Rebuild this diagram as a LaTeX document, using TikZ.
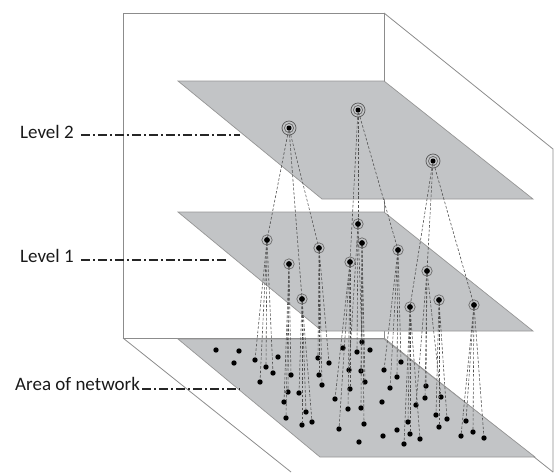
\documentclass[tikz,border=0pt]{standalone}
\usepackage{fontspec}
\setmainfont{Carlito}
\definecolor{boxline}{RGB}{140,140,140}
\definecolor{planefill}{RGB}{194,196,198}
\definecolor{planeedge}{RGB}{150,150,150}
\definecolor{connc}{RGB}{80,80,80}
\definecolor{txtc}{RGB}{25,25,25}
\begin{document}
\begin{tikzpicture}[x=1pt,y=-1pt,
  boxedge/.style={draw=boxline, line width=0.8pt},
  plane/.style={fill=planefill, draw=planeedge, line width=0.7pt},
  dot/.style={circle, fill=black, inner sep=0pt, minimum size=5.4pt},
  lonedot/.style={circle, fill=black, inner sep=0pt, minimum size=5.8pt},
  ltwodot/.style={circle, fill=black, inner sep=0pt, minimum size=5pt},
  ring/.style={draw=gray!85!black, line width=0.7pt},
  conn/.style={draw=connc, line width=0.6pt, dash pattern=on 2.6pt off 1.8pt},
  lbl/.style={font=\fontsize{19}{22}\selectfont, text=txtc, inner sep=0pt},
  leader/.style={draw=black!85, line width=1.6pt, dash pattern=on 9pt off 3pt on 2pt off 3pt}]
\useasboundingbox (0,0) rectangle (555,472);
% box
\draw[boxedge] (123,13) rectangle (384,338);
\draw[boxedge] (384,13) -- (553,149) -- (553,472);
\draw[boxedge] (384,338) -- (553,472);
\draw[boxedge] (123,338) -- (291,472);
% planes
\path[plane] (178,81) -- (384,81) -- (533,199) -- (322,199) -- cycle;
\path[plane] (178,212) -- (384,212) -- (533,331) -- (322,331) -- cycle;
\path[plane] (178,339) -- (384,339) -- (535,457) -- (320,457) -- cycle;
% labels
\node[lbl, anchor=base west] (lv2) at (20,138) {Level 2};
\node[lbl, anchor=base west] (lv1) at (20,262) {Level 1};
\node[lbl, anchor=base west] (area) at (15,390) {Area of network};
\coordinate (lv2end) at (240,135);
\coordinate (lv1end) at (227,260);
\coordinate (areaend) at (240,389);
\draw[leader] (lv2.east |- lv2end) ++(7,0) -- (lv2end);
\draw[leader] (lv1.east |- lv1end) ++(7,0) -- (lv1end);
\draw[leader] (area.east |- areaend) ++(2,0) -- (areaend);
% bottom dots
\foreach \i/\x/\y in {1/216/350, 2/239/351, 3/234/363, 4/255/360, 5/266/367,
  6/278/357, 7/273/373, 8/260/382, 9/291/375, 10/288/392, 11/299/393,
  12/284/402, 13/286/418, 14/306/412, 15/302/425, 16/312/422, 17/318/358,
  18/329/363, 19/319/375, 20/322/385, 21/343/348, 22/362/342, 23/357/352,
  24/370/350, 25/349/370, 26/361/371, 27/365/382, 28/350/389, 29/335/399,
  30/348/409, 31/361/408, 32/364/424, 33/339/429, 34/359/442, 35/384/370,
  36/401/362, 37/397/377, 38/390/388, 39/382/402, 40/426/386, 41/425/398,
  42/416/405, 43/441/397, 44/436/415, 45/447/419, 46/408/422, 47/397/430,
  48/410/434, 49/383/436, 50/420/439, 51/404/444, 52/439/427, 53/466/421,
  54/473/432, 55/461/436, 56/484/438}
  \node[dot] (b\i) at (\x,\y) {};
% level 1 nodes
\foreach \n/\x/\y in {L1a/267/240, L1b/319/248, L1c/289/264, L1d/302/299,
  L1e/358/224, L1f/362/243, L1g/350/262, L1h/398/250, L1i/427/271,
  L1j/410/307, L1k/439/300, L1l/474/305}
  \node[lonedot] (\n) at (\x,\y) {};
% level 2 nodes
\foreach \n/\x/\y in {L2a/289/128, L2b/358/110, L2c/433/161}
  \node[ltwodot] (\n) at (\x,\y) {};
% connectors level 2 -> level 1
\foreach \a/\b in {L2a/L1a, L2a/L1b, L2a/L1d, L2b/L1e, L2b/L1g, L2b/L1h,
  L2c/L1i, L2c/L1j, L2c/L1l}
  \draw[conn] (\a) -- (\b);
% connectors level 1 -> area
\foreach \a/\b in {L1a/4, L1a/5, L1a/7, L1a/8,
  L1c/9, L1c/10, L1c/12, L1c/13,
  L1d/11, L1d/14, L1d/15, L1d/16,
  L1b/17, L1b/18, L1b/19, L1b/20,
  L1g/28, L1g/29, L1g/30, L1g/33,
  L1e/22, L1e/23, L1e/25,
  L1f/26, L1f/27, L1f/31, L1f/32,
  L1h/35, L1h/36, L1h/37, L1h/38,
  L1i/40, L1i/41, L1i/42, L1i/43,
  L1j/46, L1j/48, L1j/50, L1j/51,
  L1k/44, L1k/45, L1k/52,
  L1l/53, L1l/54, L1l/55, L1l/56}
  \draw[conn] (\a) -- (b\b);
% rings
\foreach \n in {L1a,L1b,L1c,L1d,L1e,L1f,L1g,L1h,L1i,L1j,L1k,L1l}
  \draw[ring] (\n) circle (5.2pt);
\foreach \n in {L2a,L2b,L2c} {
  \draw[ring] (\n) circle (4.6pt);
  \draw[ring, draw=gray!70!black] (\n) circle (7pt);
}
\end{tikzpicture}
\end{document}
